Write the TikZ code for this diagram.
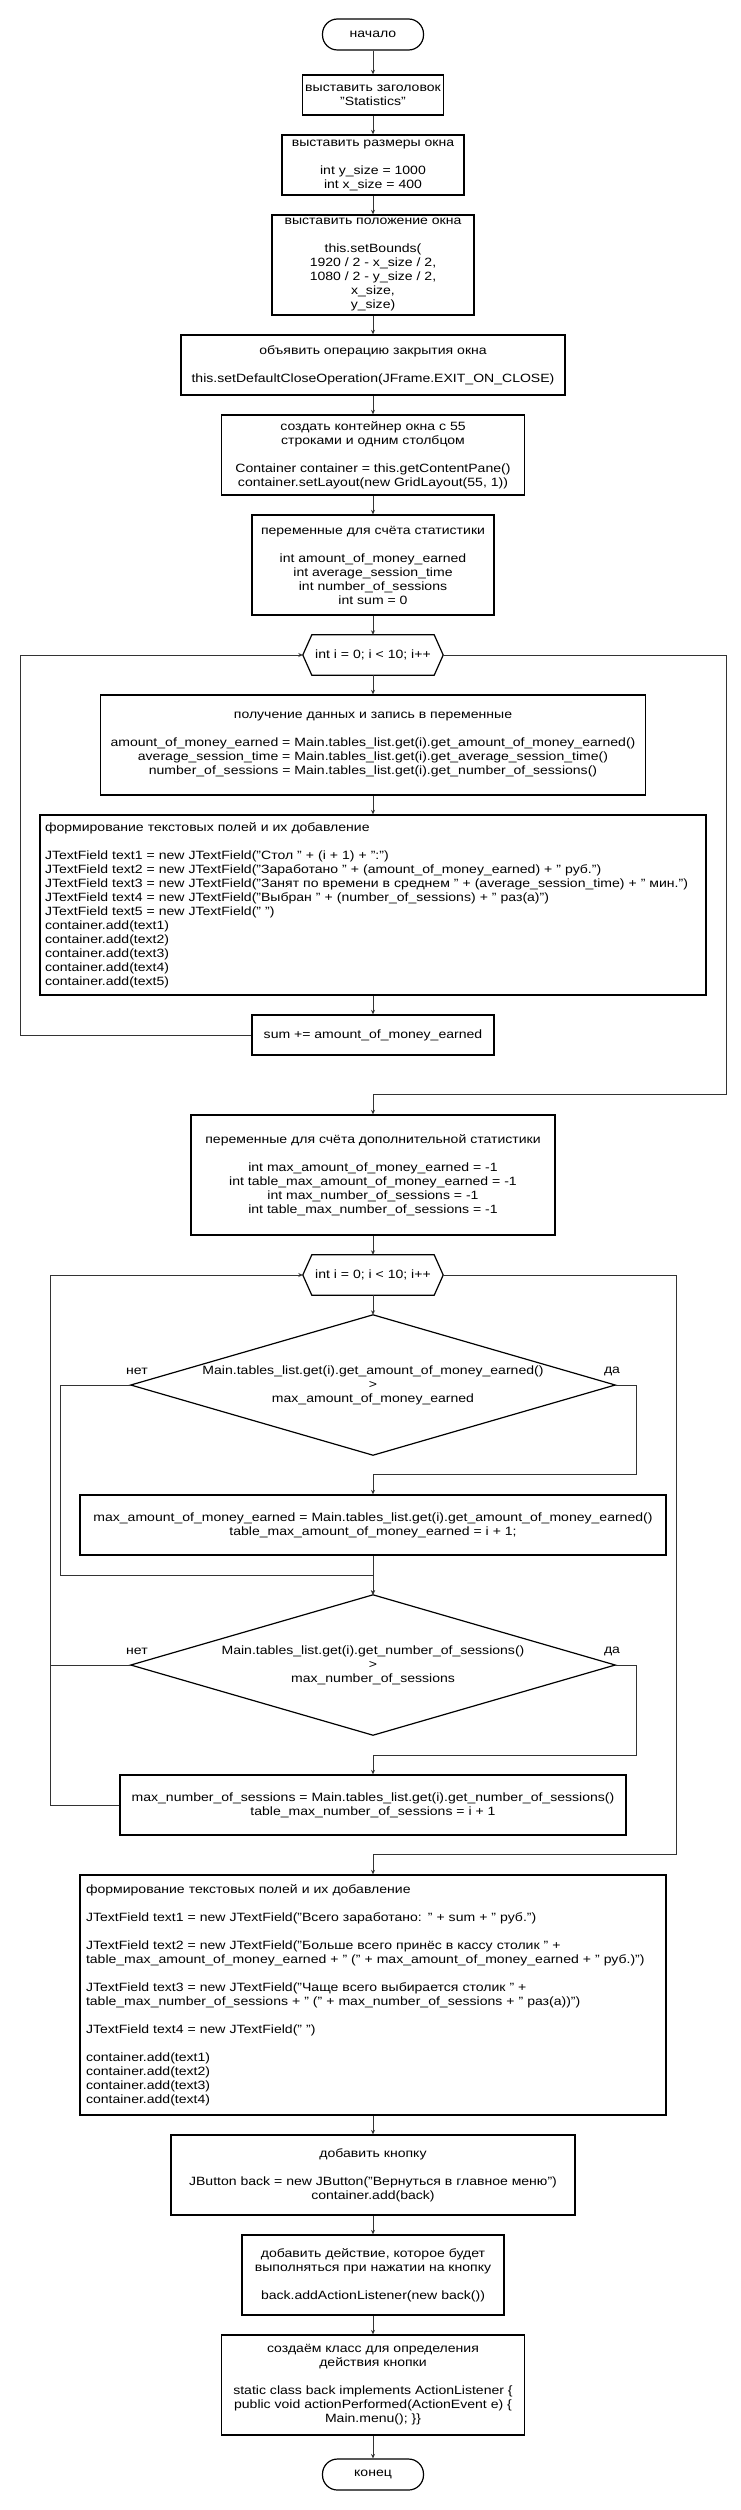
\documentclass[tikz,border=0pt]{standalone}
\usepackage{fontspec}
\setmainfont{Liberation Sans}[FakeStretch=1.17]
\usetikzlibrary{arrows.meta}
\newcommand\dfont{\fontsize{12}{14}\selectfont}
\definecolor{connc}{HTML}{333333}
\tikzset{
  box/.style={draw=black, line width=1.35pt, rectangle, inner sep=0pt, align=center, font=\dfont},
  lbox/.style={draw=black, line width=1.35pt, rectangle, inner xsep=#1, inner ysep=0pt, align=left, font=\dfont},
  term/.style={draw=black, line width=1.2pt, rectangle, rounded corners=15pt, inner sep=0pt, minimum width=101pt, minimum height=31pt, font=\dfont},
  holder/.style={draw=none, rectangle, inner sep=0pt, align=center, font=\dfont},
  shapeline/.style={draw=black, line width=1.2pt},
  conn/.style={draw=connc, line width=1pt},
  arr/.style={conn, -{Stealth[length=4.5pt,width=4pt]}},
  lbl/.style={font=\dfont, inner sep=0pt},
}
\begin{document}
\begin{tikzpicture}[x=1pt,y=-1pt]
\useasboundingbox (0,0) rectangle (740,2510);
\fill[white] (0,0) rectangle (740,2510);

\node[term] (start) at (373,34.5) {начало};
\node[box, minimum width=141pt, minimum height=40pt] (b1) at (373,95) {выставить заголовок\\"Statistics"};
\node[box, minimum width=182pt, minimum height=60pt] (b2) at (373,165) {выставить размеры окна\\[14pt]int y\_size = 1000\\int x\_size = 400};
\node[box, minimum width=202pt, minimum height=100pt] (b3) at (373,265) {выставить положение окна\\[14pt]this.setBounds(\\1920 / 2 - x\_size / 2,\\1080 / 2 - y\_size / 2,\\x\_size,\\y\_size)};
\node[box, minimum width=384pt, minimum height=60pt] (b4) at (373,365) {объявить операцию закрытия окна\\[14pt]this.setDefaultCloseOperation(JFrame.EXIT\_ON\_CLOSE)};
\node[box, minimum width=303pt, minimum height=80pt] (b5) at (373,455) {создать контейнер окна с 55\\строками и одним столбцом\\[14pt]Container container = this.getContentPane()\\container.setLayout(new GridLayout(55, 1))};
\node[box, minimum width=242pt, minimum height=100pt] (b6) at (373,565) {переменные для счёта статистики\\[14pt]int amount\_of\_money\_earned\\int average\_session\_time\\int number\_of\_sessions\\int sum = 0};

\node[holder, minimum width=140pt, minimum height=40pt] (h1) at (373,655) {int i = 0; i < 10; i++};
\draw[shapeline] (h1.west) -- ([xshift=9pt]h1.north west) -- ([xshift=-9pt]h1.north east) -- (h1.east) -- ([xshift=-9pt]h1.south east) -- ([xshift=9pt]h1.south west) -- cycle;

\node[box, minimum width=545pt, minimum height=100pt] (b7) at (373,745) {получение данных и запись в переменные\\[14pt]amount\_of\_money\_earned = Main.tables\_list.get(i).get\_amount\_of\_money\_earned()\\average\_session\_time = Main.tables\_list.get(i).get\_average\_session\_time()\\number\_of\_sessions = Main.tables\_list.get(i).get\_number\_of\_sessions()};
\node[lbox=5pt, text width=656pt, minimum height=180pt] (b8) at (373,905) {формирование текстовых полей и их добавление\\[14pt]JTextField text1 = new JTextField("Стол " + (i + 1) + ":")\\JTextField text2 = new JTextField("Заработано " + (amount\_of\_money\_earned) + " руб.")\\JTextField text3 = new JTextField("Занят по времени в среднем " + (average\_session\_time) + " мин.")\\JTextField text4 = new JTextField("Выбран " + (number\_of\_sessions) + " раз(а)")\\JTextField text5 = new JTextField(" ")\\container.add(text1)\\container.add(text2)\\container.add(text3)\\container.add(text4)\\container.add(text5)};
\node[box, minimum width=242pt, minimum height=40pt] (b9) at (373,1035) {sum += amount\_of\_money\_earned};

\node[box, minimum width=364pt, minimum height=120pt] (b10) at (373,1175) {переменные для счёта дополнительной статистики\\[14pt]int max\_amount\_of\_money\_earned = -1\\int table\_max\_amount\_of\_money\_earned = -1\\int max\_number\_of\_sessions = -1\\int table\_max\_number\_of\_sessions = -1};

\node[holder, minimum width=140pt, minimum height=40pt] (h2) at (373,1275) {int i = 0; i < 10; i++};
\draw[shapeline] (h2.west) -- ([xshift=9pt]h2.north west) -- ([xshift=-9pt]h2.north east) -- (h2.east) -- ([xshift=-9pt]h2.south east) -- ([xshift=9pt]h2.south west) -- cycle;

\node[holder, minimum width=484pt, minimum height=140pt] (d1) at (373,1385) {Main.tables\_list.get(i).get\_amount\_of\_money\_earned()\\>\\max\_amount\_of\_money\_earned};
\draw[shapeline] (d1.north) -- (d1.east) -- (d1.south) -- (d1.west) -- cycle;

\node[box, minimum width=586pt, minimum height=60pt] (b11) at (373,1525) {max\_amount\_of\_money\_earned = Main.tables\_list.get(i).get\_amount\_of\_money\_earned()\\table\_max\_amount\_of\_money\_earned = i + 1;};

\node[holder, minimum width=484pt, minimum height=140pt] (d2) at (373,1665) {Main.tables\_list.get(i).get\_number\_of\_sessions()\\>\\max\_number\_of\_sessions};
\draw[shapeline] (d2.north) -- (d2.east) -- (d2.south) -- (d2.west) -- cycle;

\node[box, minimum width=506pt, minimum height=60pt] (b12) at (373,1805) {max\_number\_of\_sessions = Main.tables\_list.get(i).get\_number\_of\_sessions()\\table\_max\_number\_of\_sessions = i + 1};

\node[lbox=6pt, text width=574pt, minimum height=240pt] (b13) at (373,1995) {формирование текстовых полей и их добавление\\[14pt]JTextField text1 = new JTextField("Всего заработано: " + sum + " руб.")\\[14pt]JTextField text2 = new JTextField("Больше всего принёс в кассу столик " +\\table\_max\_amount\_of\_money\_earned + " (" + max\_amount\_of\_money\_earned + " руб.)")\\[14pt]JTextField text3 = new JTextField("Чаще всего выбирается столик " +\\table\_max\_number\_of\_sessions + " (" + max\_number\_of\_sessions + " раз(а))")\\[14pt]JTextField text4 = new JTextField(" ")\\[14pt]container.add(text1)\\container.add(text2)\\container.add(text3)\\container.add(text4)};
\node[box, minimum width=404pt, minimum height=80pt] (b14) at (373,2175) {добавить кнопку\\[14pt]JButton back = new JButton("Вернуться в главное меню")\\container.add(back)};
\node[box, minimum width=262pt, minimum height=80pt] (b15) at (373,2275) {добавить действие, которое будет\\выполняться при нажатии на кнопку\\[14pt]back.addActionListener(new back())};
\node[box, minimum width=303pt, minimum height=100pt] (b16) at (373,2385) {создаём класс для определения\\действия кнопки\\[14pt]static class back implements ActionListener \{\\public void actionPerformed(ActionEvent e) \{\\Main.menu(); \}\}};
\node[term] (end) at (373,2474.5) {конец};

% labels
\node[lbl] (n1) at (137,1371) {нет};
\node[lbl] (y1) at (612,1371) {да};
\node[lbl] (n2) at (137,1651) {нет};
\node[lbl] (y2) at (612,1651) {да};

% coordinates
\coordinate (L1) at (20,1035);
\coordinate (R1) at (726,1094);
\coordinate (Y1) at (636,1474);
\coordinate (N1) at (60,1575);
\coordinate (Y2) at (636,1755);
\coordinate (N2) at (50,1665);
\coordinate (L2) at (50,1805);
\coordinate (R2) at (676,1854);

% straight connectors
\draw[arr] (start) -- (b1);
\draw[arr] (b1) -- (b2);
\draw[arr] (b2) -- (b3);
\draw[arr] (b3) -- (b4);
\draw[arr] (b4) -- (b5);
\draw[arr] (b5) -- (b6);
\draw[arr] (b6) -- (h1.north);
\draw[arr] (h1.south) -- (b7);
\draw[arr] (b7) -- (b8);
\draw[arr] (b8) -- (b9);
\draw[arr] (b9.west) -- (L1) |- (h1.west);
\draw[arr] (h1.east) -| (R1) -| (b10.north);
\draw[arr] (b10) -- (h2.north);
\draw[arr] (h2.south) -- (d1.north);
\draw[arr] (d1.east) -| (Y1) -| (b11.north);
\draw[arr] (d1.west) -| (N1) -| (d2.north);
\draw[arr] (b11) -- (d2.north);
\draw[arr] (d2.east) -| (Y2) -| (b12.north);
\draw[conn] (d2.west) -- (N2);
\draw[arr] (b12.west) -- (L2) |- (h2.west);
\draw[arr] (h2.east) -| (R2) -| (b13.north);
\draw[arr] (b13) -- (b14);
\draw[arr] (b14) -- (b15);
\draw[arr] (b15) -- (b16);
\draw[arr] (b16) -- (end);
\end{tikzpicture}
\end{document}
